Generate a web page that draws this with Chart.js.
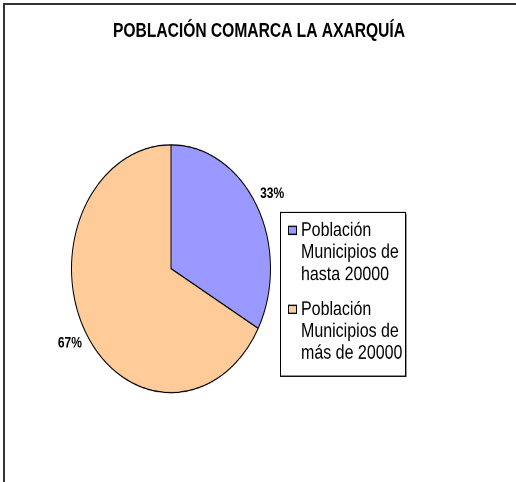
<!DOCTYPE html>
<html>
<head>
<meta charset="utf-8">
<script src="https://cdn.jsdelivr.net/npm/chart.js@4.4.1/dist/chart.umd.min.js"></script>
<style>
  html, body { margin: 0; padding: 0; background: #ffffff; }
  #wrap { position: relative; width: 516px; height: 482px; overflow: hidden; background: #fff; }
  #c { position: absolute; left: 0; top: 0; width: 516px; height: 482px; }
  #frame { position: absolute; left: 3px; top: 3px; right: -10px; bottom: -10px;
           border-left: 2px solid #333; border-top: 2px solid #333; pointer-events: none; }
</style>
</head>
<body>
<div id="wrap">
  <canvas id="c" width="516" height="387" style="width:516px;height:482px;"></canvas>
  <div id="frame"></div>
</div>
<script>
// ---- data ----
const chartTitle = 'POBLACIÓN COMARCA LA AXARQUÍA';
const categories = ['Población Municipios de hasta 20000', 'Población Municipios de más de 20000'];
const legendLines = [
  ['Población', 'Municipios de', 'hasta 20000'],
  ['Población', 'Municipios de', 'más de 20000']
];
const shares = [33, 67];
const sliceColors = ['#9999FF', '#FFCC99'];

const FONT = "'Liberation Sans', Arial, Helvetica, sans-serif";

const overlay = {
  id: 'overlay',
  afterDraw(chart) {
    const ctx = chart.ctx;
    ctx.save();
    // title
    ctx.fillStyle = '#000';
    ctx.font = 'bold 15.6px ' + FONT;
    ctx.textAlign = 'center';
    ctx.textBaseline = 'middle';
    ctx.fillText(chartTitle, 259, 25.4);

    // percentage labels
    const meta = chart.getDatasetMeta(0);
    const total = shares.reduce((a, b) => a + b, 0);
    ctx.font = 'bold 12px ' + FONT;
    meta.data.forEach((arc, i) => {
      const mid = (arc.startAngle + arc.endAngle) / 2;
      const r = arc.outerRadius + 18;
      const x = arc.x + Math.cos(mid) * r;
      const y = arc.y + Math.sin(mid) * r;
      ctx.fillText(Math.round(shares[i] / total * 100) + '%', x, y);
    });

    // legend box
    const bx = 280.5, by = 170.5, bw = 125, bh = 131.5;
    ctx.fillStyle = '#fff';
    ctx.fillRect(bx, by, bw, bh);
    ctx.strokeStyle = '#000';
    ctx.lineWidth = 1;
    ctx.strokeRect(bx, by, bw, bh);
    ctx.strokeStyle = '#999';
    ctx.beginPath();
    ctx.moveTo(bx + bw + 1, by + 1);
    ctx.lineTo(bx + bw + 1, by + bh + 1);
    ctx.stroke();

    const lineH = 17.7;
    const groupTops = [185.0, 248.4];
    ctx.font = '16px ' + FONT;
    ctx.textAlign = 'left';
    legendLines.forEach((lines, i) => {
      const y0 = groupTops[i];
      ctx.fillStyle = sliceColors[i];
      ctx.fillRect(288.5, y0 - 3.3, 8, 6.4);
      ctx.strokeStyle = '#000';
      ctx.strokeRect(288.5, y0 - 3.3, 8, 6.4);
      ctx.fillStyle = '#000';
      lines.forEach((t, j) => ctx.fillText(t, 301, y0 + j * lineH));
    });
    ctx.restore();
  }
};

new Chart(document.getElementById('c'), {
  type: 'pie',
  data: {
    labels: categories,
    datasets: [{
      data: shares,
      backgroundColor: sliceColors,
      borderColor: '#000000',
      borderWidth: 1
    }]
  },
  options: {
    responsive: false,
    devicePixelRatio: 2,
    animation: false,
    events: [],
    layout: { padding: { left: 71, right: 245, top: 115.7, bottom: 71.3 } },
    plugins: {
      legend: { display: false },
      title: { display: false },
      tooltip: { enabled: false }
    }
  },
  plugins: [overlay]
});
</script>
</body>
</html>
